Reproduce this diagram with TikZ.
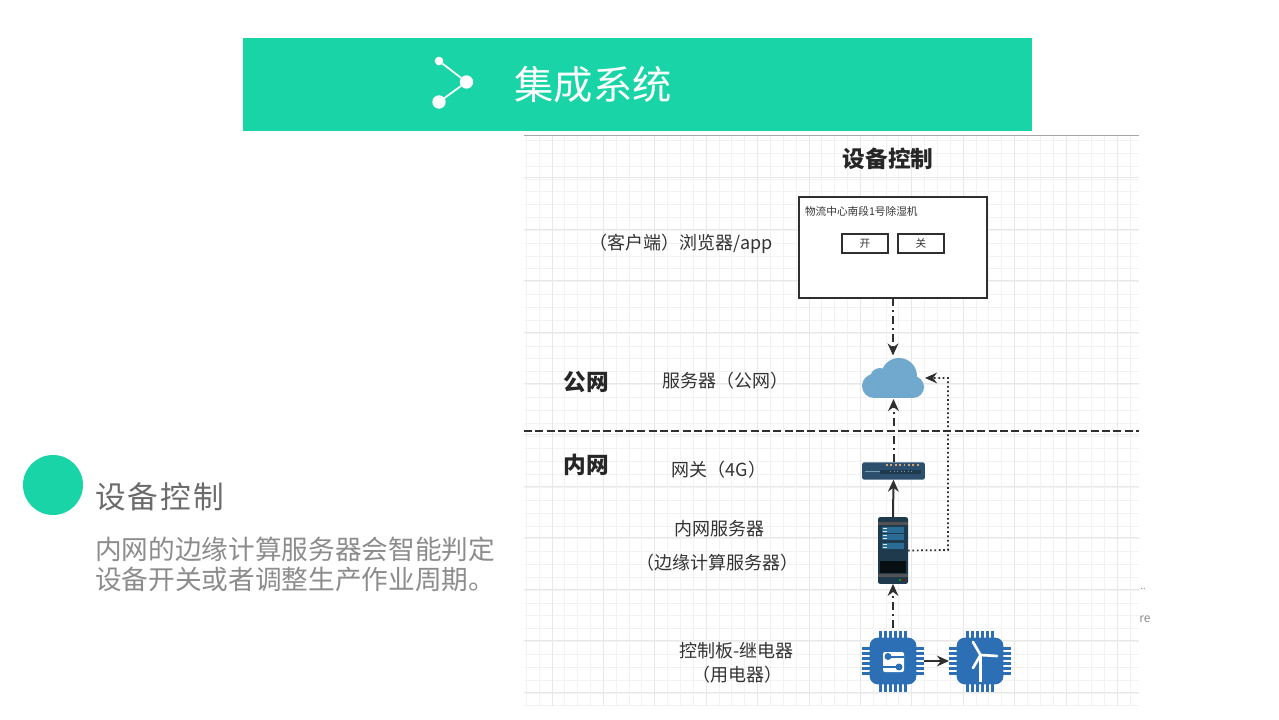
\documentclass[tikz,border=0pt]{standalone}
\usepackage{fontspec}
\setmainfont{Noto Sans CJK SC}
\usetikzlibrary{arrows.meta}
\definecolor{mint}{HTML}{19D4A6}
\definecolor{inkline}{HTML}{2F2F2F}
\definecolor{chipblue}{HTML}{2C6FB5}
\definecolor{cloudblue}{HTML}{71A9CE}
\definecolor{rackdark}{HTML}{1E3A4C}
\definecolor{rackblue}{HTML}{2A6C96}
\definecolor{gategray}{HTML}{2C4F6E}
\begin{document}
\begin{tikzpicture}[x=0.75pt,y=-0.75pt,inner sep=0pt,outer sep=0pt,
label/.style={text=black!80,font=\fontsize{13.5}{16}\selectfont},
heavy/.style={text=black!85,font=\fontsize{17}{20}\selectfont\bfseries},
linkline/.style={inkline,line width=1.5pt,-{Stealth[length=9pt,width=8pt]}},
dashdot/.style={linkline,dash pattern=on 6pt off 3pt on 1.5pt off 3pt},
dotline/.style={linkline,line width=1.3pt,dash pattern=on 1.3pt off 2pt},
chip/.style={fill=chipblue,rounded corners=6pt,minimum width=35pt,minimum height=35pt},
btn/.style={draw=inkline,fill=white,line width=1.1pt,minimum width=34.5pt,minimum height=14.5pt,font=\fontsize{8}{10}\selectfont,text=black!80}]
\useasboundingbox (0,0) rectangle (1279,720);
\fill[white] (0,0) rectangle (1279,720);
% sheet grid
\foreach \k in {0,...,47} \draw[black!5,line width=0.75pt] ({526.3+12.85*\k},135) -- ({526.3+12.85*\k},706);
\foreach \k in {0,...,44} \draw[black!5,line width=0.75pt] (524,{140.5+12.85*\k}) -- (1139,{140.5+12.85*\k});
\foreach \k in {0,...,11} \draw[black!9,line width=0.75pt] ({552+51.4*\k},135) -- ({552+51.4*\k},706);
\foreach \k in {0,...,10} \draw[black!9,line width=0.75pt] (524,{178+51.4*\k}) -- (1139,{178+51.4*\k});
\draw[black!35,line width=0.75pt] (524,135.5) -- (1139,135.5);
% banner
\fill[mint] (243,38) rectangle (1032,131);
\node[circle,fill=white,minimum size=6.5pt] (dotA) at (439,61) {};
\node[circle,fill=white,minimum size=10pt] (dotB) at (466.5,82) {};
\node[circle,fill=white,minimum size=10pt] (dotC) at (439,102) {};
\draw[white,line width=1.3pt] (dotA) -- (dotB) -- (dotC);
\node[text=white,font=\fontsize{29.5}{34}\selectfont] (banner) at (593,84.5) {集成系统};
% left text
\node[circle,fill=mint,minimum size=45pt] (bullet) at (53,485) {};
\node[anchor=west,text=black!58,font=\fontsize{23}{28}\selectfont\addfontfeatures{LetterSpace=7}] (head) at (95,497) {设备控制};
\node[anchor=west,text=black!45,font=\fontsize{20}{24}\selectfont] (bodyA) at (95,549.5) {内网的边缘计算服务器会智能判定};
\node[anchor=west,text=black!45,font=\fontsize{20}{24}\selectfont] (bodyB) at (95,579.5) {设备开关或者调整生产作业周期。};
% browser window
\node[heavy] (title) at (888,159) {设备控制};
\node[draw=inkline,fill=white,line width=1.3pt,minimum width=141pt,minimum height=76pt] (window) at (893,247.5) {};
\node[anchor=west,text=black!80,font=\fontsize{8}{10}\selectfont] (device) at (805,211) {物流中心南段1号除湿机};
\node[btn] (on) at (865,243.5) {开};
\node[btn] (off) at (921,243.5) {关};
% cloud
\node[minimum width=47pt,minimum height=30pt] (cloud) at (893.5,378) {};
\fill[cloudblue] (874,386) circle (12) (913,387) circle (11) (899,376) circle (18) (880,378) circle (10);
\fill[cloudblue] (874,386) rectangle (913,398);
% gateway
\node[fill=gategray,rounded corners=1.5pt,minimum width=47pt,minimum height=13pt] (gateway) at (893.5,471) {};
\fill[rackdark] (880,469.5) rectangle (921,474);
\fill[black!10!cyan!40!gray] (865,470.5) rectangle (880,472);
\foreach \k in {0,...,7} \fill[orange!50!gray!70] ({886+4.4*\k},463.5) rectangle +(1.8,2.5);
\foreach \k in {0,...,6} \fill[black!10!cyan!40!gray] ({890+3.5*\k},471) rectangle +(1,1);
% server
\node[fill=rackdark,rounded corners=1.5pt,minimum width=22.5pt,minimum height=50pt] (server) at (893,550.5) {};
\fill[black!35!gray] (878,522) rectangle (908,524.5);
\fill[black!35!gray] (878,574) rectangle (908,577);
\fill[black!75!rackdark] (880,561) rectangle (906,573);
\foreach \k in {527,534,543} {
  \fill[rackblue] (882,\k) rectangle (904,{\k+6});
  \fill[white!85!rackblue] (883,{\k+1}) rectangle +(4,1);
  \fill[white!85!rackblue] (883,{\k+4}) rectangle +(4,1);
}
\fill[green!60!black] (899,578.5) rectangle +(2,2);
\fill[red!60!black] (903,578.5) rectangle +(2,2);
% chips
\foreach \n/\cx in {relay/893,load/980}{
  \foreach \k in {-2.5,-1.5,-0.5,0.5,1.5,2.5}{
    \draw[chipblue,line width=2.3pt] ({\cx+\k*5},630.5) -- ({\cx+\k*5},691.5);
    \draw[chipblue,line width=2.3pt] ({\cx-31},{661+\k*5}) -- ({\cx+31},{661+\k*5});
  }
  \node[chip] (\n) at (\cx,661) {};
}
\fill[white,rounded corners=1.5pt] (883,652) rectangle (904,672);
\fill[chipblue] (889,655.5) rectangle (904,658);
\fill[chipblue] (883,665.5) rectangle (898,668);
\fill[chipblue] (888,656.5) circle (3.5) (899,667) circle (3.5);
\draw[white,line width=2pt,line cap=round] (980.5,655) -- (973,642) (980.5,655) -- (997,656) (980.5,655) -- (973,668);
\draw[white,line width=2pt] (980.5,655) -- (980.5,682);
% connectors
\coordinate (relaytop) at (893,628);
\coordinate (relayout) at (924,661);
\coordinate (loadin) at (949,661);
\coordinate (cloudtop) at (893,355.5);
\coordinate (cloudbase) at (893.5,399);
\coordinate (cloudside) at (925,378);
\coordinate (turnA) at (948,550);
\coordinate (turnB) at (948,378);
\draw[dashdot] (window.south) -- (cloudtop);
\draw[dashdot] (gateway.north) -- (cloudbase);
\draw[linkline] (server.north) -- (gateway.south);
\draw[dashdot] (relaytop) -- (server.south);
\draw[linkline] (relayout) -- (loadin);
\draw[dotline] (server.east) -- (turnA) -- (turnB) -- (cloudside);
\coordinate (divA) at (524,431);
\coordinate (divB) at (1139,431);
\draw[inkline,line width=1.3pt,dash pattern=on 6pt off 2.5pt] (divA) -- (divB);
% labels
\node[label] (client) at (681,244) {（客户端）浏览器/app};
\node[heavy] (public) at (586,382.5) {公网};
\node[label] (cloudtext) at (725.5,381) {服务器（公网）};
\node[heavy] (intranet) at (586,465) {内网};
\node[label] (gatetext) at (719,469.5) {网关（4G）};
\node[label] (servertextA) at (719.5,528.5) {内网服务器};
\node[label] (servertextB) at (717,563) {（边缘计算服务器）};
\node[label] (relaytext) at (736.5,651) {控制板-继电器};
\node[label] (loadtext) at (737,674.5) {（用电器）};
\node[text=black!45,font=\fontsize{7}{8}\selectfont] (stubA) at (1143,589) {..};
\node[text=black!45,font=\fontsize{9}{11}\selectfont] (stubB) at (1145,619) {re};
\end{tikzpicture}
\end{document}
